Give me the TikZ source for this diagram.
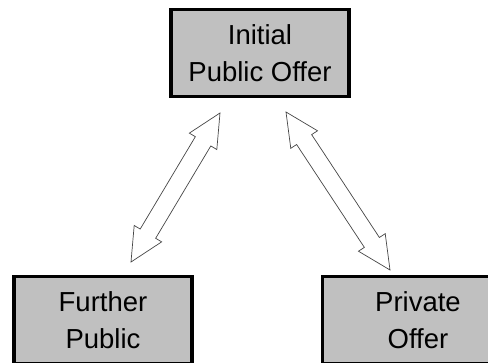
\documentclass[tikz,border=0pt]{standalone}
\usepackage{fontspec}
\setmainfont{Liberation Sans}
\usetikzlibrary{calc}
\definecolor{boxgray}{RGB}{192,192,192}
\definecolor{arrowline}{RGB}{70,70,70}
% hollow two-headed block arrow between two named points
\newcommand{\twoway}[2]{
   \coordinate (b1) at ($(#1)!33pt!(#2)$);
   \coordinate (b2) at ($(#2)!33pt!(#1)$);
   \draw[blockarrow] (#1) -- ($(b1)!16pt!90:(#2)$) -- ($(b1)!9pt!90:(#2)$)
      -- ($(b2)!9pt!-90:(#1)$) -- ($(b2)!16pt!-90:(#1)$) -- (#2)
      -- ($(b2)!16pt!90:(#1)$) -- ($(b2)!9pt!90:(#1)$)
      -- ($(b1)!9pt!-90:(#2)$) -- ($(b1)!16pt!-90:(#2)$) -- cycle;
}
\begin{document}
\begin{tikzpicture}[x=1pt, y=-1pt,
    offerbox/.style ={rectangle, draw, line width=3.3pt, fill=boxgray, align=center,
        minimum width=178pt, minimum height=87pt, inner sep=0pt,
        font=\fontsize{27.5}{36.5}\selectfont},
    blockarrow/.style ={draw=arrowline, line width=0.7pt, fill=white, line join=miter}]
   \clip (0,0) rectangle (488,363);
   \node[offerbox] (IPO) at (260,53) {Initial\\Public Offer};
   \node[offerbox] (FPO) at (103,320) {Further\\Public};
   \node[offerbox, minimum width=191pt] (PO) at (418,320) {Private\\Offer};
   \coordinate (L1) at (220,113);
   \coordinate (L2) at (131,262);
   \coordinate (R1) at (286,112);
   \coordinate (R2) at (390,270);
   \twoway{L1}{L2}
   \twoway{R1}{R2}
\end{tikzpicture}
\end{document}
